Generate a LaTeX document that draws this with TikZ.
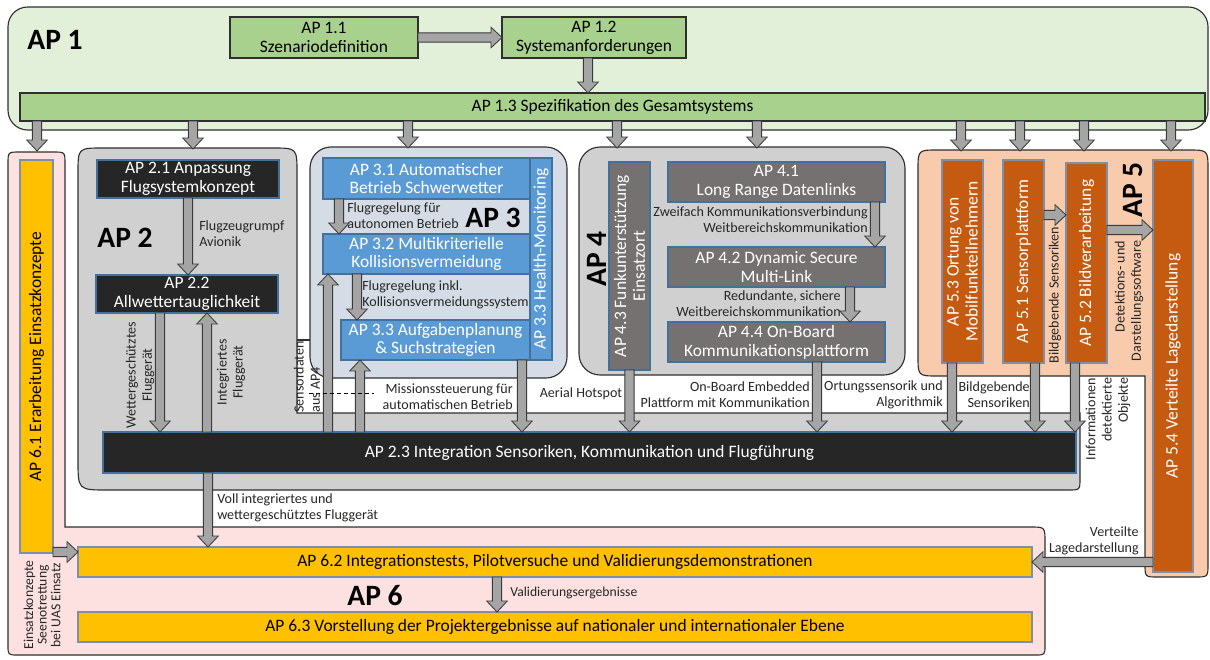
\documentclass[tikz,border=0pt]{standalone}
\usepackage{fontspec}
\setmainfont{Carlito}
\usetikzlibrary{calc}

\definecolor{apone}{HTML}{E2F0D9}
\definecolor{aponebox}{HTML}{A9D18E}
\definecolor{aptwo}{HTML}{D0D0D0}
\definecolor{darkbox}{HTML}{262626}
\definecolor{boxedge}{HTML}{41719C}
\definecolor{apthree}{HTML}{D6DCE5}
\definecolor{apthreebox}{HTML}{5B9BD5}
\definecolor{apfourbox}{HTML}{767171}
\definecolor{apfive}{HTML}{F8CBAD}
\definecolor{apfivebox}{HTML}{C55A11}
\definecolor{apsix}{HTML}{FDE1E1}
\definecolor{apsixbox}{HTML}{FFC000}
\definecolor{greyedge}{HTML}{7F8FA9}
\definecolor{arrfill}{HTML}{A5A5A5}
\definecolor{arrline}{HTML}{3A3A3A}
\definecolor{outline}{HTML}{2F2F2F}
\definecolor{lbltext}{HTML}{262626}

% one pixel of the drawing grid
\newcommand\pxu{0.025cm}
% block arrow: shaft half width, head half width, head length
\newcommand\aw{3.3pt}
\newcommand\aW{7.3pt}
\newcommand\ah{7.8pt}
\newcommand\blockarrow[2]{%
  \draw[fatarr] let \p1=(#1), \p2=(#2),
    \n1={veclen(\x2-\x1,\y2-\y1)}, \n2={(\x2-\x1)/\n1}, \n3={(\y2-\y1)/\n1} in
    ({\x1-\aw*\n3},{\y1+\aw*\n2})
    -- ({\x2-\ah*\n2-\aw*\n3},{\y2-\ah*\n3+\aw*\n2})
    -- ({\x2-\ah*\n2-\aW*\n3},{\y2-\ah*\n3+\aW*\n2})
    -- (\x2,\y2)
    -- ({\x2-\ah*\n2+\aW*\n3},{\y2-\ah*\n3-\aW*\n2})
    -- ({\x2-\ah*\n2+\aw*\n3},{\y2-\ah*\n3-\aw*\n2})
    -- ({\x1+\aw*\n3},{\y1-\aw*\n2}) -- cycle;}

\begin{document}
\begin{tikzpicture}[x=0.025cm, y=-0.025cm,
  outl/.style={draw=outline, line width=0.8pt},
  base/.style={inner sep=0pt, outer sep=0pt, align=center, line width=0.8pt,
    font=\fontsize{12.4}{13.4}\selectfont},
  sz/.style 2 args={minimum width=#1*\pxu, minimum height=#2*\pxu},
  gbox/.style={base, draw=outline, fill=aponebox},
  kbox/.style={base, draw=boxedge, fill=darkbox, text=white},
  bbox/.style={base, draw=boxedge, fill=apthreebox, text=white},
  hbox/.style={base, draw=boxedge, fill=apfourbox, text=white},
  obox/.style={base, draw=greyedge, fill=apfivebox, text=white},
  ybox/.style={base, draw=greyedge, fill=apsixbox, text=black},
  lbl/.style={inner sep=0pt, text=lbltext, font=\fontsize{10}{11.5}\selectfont},
  small/.style={inner sep=0pt, text=lbltext, font=\fontsize{9.7}{9.7}\selectfont},
  big/.style={inner sep=0pt, font=\fontsize{21}{21}\selectfont\bfseries},
  fatarr/.style={fill=arrfill, draw=arrline, line width=0.6pt, line join=miter},
]
\useasboundingbox (0,0) rectangle (1210,659);

% ---------- AP 1 frame ----------
\draw[outl, fill=apone, rounded corners=14pt] (8,7) rectangle (1208,130);
\node[big] (ap1) at (55,40) {AP 1};

% ---------- AP 6 frame (L-shaped) ----------
\draw[outl, fill=apsix]
  (65,527) -- (1030,527) .. controls (1045,527) .. (1045,542)
  -- (1045,645) .. controls (1045,655) .. (1035,655)
  -- (18,655) .. controls (8,655) .. (8,645)
  -- (8,164) .. controls (8,152) .. (20,152)
  -- (53,152) .. controls (65,152) .. (65,164) -- cycle;

% ---------- AP 5 frame (inverted L) ----------
\draw[outl, fill=apfive]
  (1145,376) -- (938,376) .. controls (918,376) .. (918,356)
  -- (918,170) .. controls (918,150) .. (938,150)
  -- (1188,150) .. controls (1208,150) .. (1208,170)
  -- (1208,564) .. controls (1208,577) .. (1195,577)
  -- (1158,577) .. controls (1145,577) .. (1145,564) -- cycle;

% ---------- AP 2 frame ----------
\draw[outl, fill=aptwo]
  (297,413) -- (297,173) .. controls (297,148) .. (272,148)
  -- (103,148) .. controls (78,148) .. (78,173)
  -- (78,460) .. controls (78,490) .. (108,490)
  -- (1068,490) .. controls (1080,490) .. (1080,478)
  -- (1080,413) -- cycle;
\draw[outl] (297,340) -- (312,340);

% ---------- AP 3 / AP 4 frames ----------
\draw[outl, fill=apthree, rounded corners=15pt] (310,147) rectangle (567,378);
\draw[outl, fill=aptwo, rounded corners=15pt] (579,147) rectangle (905,375);

% ---------- work package boxes ----------
\node[gbox, sz={188}{41}] (a11) at (324,37.5) {AP 1.1\\Szenariodefinition};
\node[gbox, sz={184}{41}] (a12) at (594,37.5) {AP 1.2\\Systemanforderungen};
\node[gbox, sz={1185}{28}] (a13) at (612.5,107) {AP 1.3 Spezifikation des Gesamtsystems};

\node[kbox, sz={182}{38}] (a21) at (188,179) {AP 2.1 Anpassung\\Flugsystemkonzept};
\node[kbox, sz={182}{38}] (a22) at (187,294) {AP 2.2\\Allwettertauglichkeit};
\node[kbox, sz={973}{41}] (a23) at (589.5,452.5) {AP 2.3 Integration Sensoriken, Kommunikation und Flugführung};

\node[bbox, sz={207}{41}] (a31) at (426.5,178.5) {AP 3.1 Automatischer\\Betrieb Schwerwetter};
\node[bbox, sz={207}{40}] (a32) at (426.5,254) {AP 3.2 Multikriterielle\\Kollisionsvermeidung};
\node[bbox, sz={189}{40}] (a33) at (435.5,340) {AP 3.3 Aufgabenplanung\\\& Suchstrategien};
\node[bbox, rotate=90, sz={202}{22}] (a34) at (541,259) {AP 3.3 Health-Monitoring};

\node[hbox, sz={217}{40}] (a41) at (776.5,182) {AP 4.1\\Long Range Datenlinks};
\node[hbox, sz={217}{40}] (a42) at (776.5,267) {AP 4.2 Dynamic Secure\\Multi-Link};
\node[hbox, rotate=90, sz={208}{41}] (a43) at (629.5,266) {AP 4.3 Funkunterstützung\\Einsatzort};
\node[hbox, sz={217}{40}] (a44) at (776.5,342) {AP 4.4 On-Board\\Kommunikationsplattform};

\node[obox, rotate=90, sz={203}{41}] (a53) at (962.5,261.5) {AP 5.3 Ortung von\\Mobilfunkteilnehmern};
\node[obox, rotate=90, sz={203}{41}] (a51) at (1023.5,261.5) {AP 5.1 Sensorplattform};
\node[obox, rotate=90, sz={200}{41}] (a52) at (1086.5,263) {AP 5.2 Bildverarbeitung};
\node[obox, rotate=90, sz={412}{40}] (a54) at (1173,366) {AP 5.4 Verteilte Lagedarstellung};

\node[ybox, rotate=90, sz={393}{33}] (a61) at (36.5,356.5) {AP 6.1 Erarbeitung Einsatzkonzepte};
\node[ybox, sz={954}{30}] (a62) at (555,562) {AP 6.2 Integrationstests, Pilotversuche und Validierungsdemonstrationen};
\node[ybox, sz={954}{30}] (a63) at (555,627) {AP 6.3 Vorstellung der Projektergebnisse auf nationaler und internationaler Ebene};

% ---------- headings ----------
\node[big] (ap2) at (125,238) {AP 2};
\node[big] (ap3) at (493,218) {AP 3};
\node[big, rotate=90] (ap4) at (597,259) {AP 4};
\node[big, rotate=90] (ap5) at (1133,190) {AP 5};
\node[big] (ap6) at (375,596) {AP 6};

% ---------- arrow columns and targets ----------
\coordinate (t61) at (37,151);
\coordinate (t2) at (193,149);
\coordinate (t3) at (408,148);
\coordinate (t43) at (617,148);
\coordinate (t4) at (757,148);
\coordinate (t53) at (961,151);
\coordinate (t51) at (1020,151);
\coordinate (t52) at (1084,151);
\coordinate (t54) at (1171,151);
\coordinate (c12) at (588,0);
\coordinate (cW) at (160,0);
\coordinate (cI) at (207,0);
\coordinate (cV) at (208,0);
\coordinate (cS) at (328,0);
\coordinate (cM) at (360,0);
\coordinate (c31) at (339,0);
\coordinate (c32) at (357,0);
\coordinate (c3out) at (522,0);
\coordinate (c41) at (875,0);
\coordinate (c42) at (850,0);
\coordinate (c44) at (817,0);
\coordinate (c53) at (952,0);
\coordinate (c51) at (1035,0);
\coordinate (c52) at (1075,0);
\coordinate (c62) at (497,0);
\coordinate (rE) at (0,552);
\coordinate (rS) at (0,215);
\coordinate (rD) at (0,230);

% ---------- connectors ----------
\blockarrow{a11.east}{a12.west}
\blockarrow{a12.south -| c12}{a13.north -| c12}
\foreach \t in {t61,t2,t3,t43,t4,t53,t51,t52,t54}{\blockarrow{a13.south -| \t}{\t}}

\blockarrow{a21.south}{a22.north -| a21.south}
\blockarrow{a22.south -| cW}{a23.north -| cW}
\blockarrow{a23.north -| cI}{a22.south -| cI}
\blockarrow{a23.south -| cV}{a62.north -| cV}

\blockarrow{a31.south -| c31}{a32.north -| c31}
\blockarrow{a32.south -| c32}{a33.north -| c32}
\blockarrow{a23.north -| cS}{a32.south -| cS}
\blockarrow{a23.north -| cM}{a33.south -| cM}
\blockarrow{a33.south -| c3out}{a23.north -| c3out}

\blockarrow{a41.south -| c41}{a42.north -| c41}
\blockarrow{a42.south -| c42}{a44.north -| c42}
\blockarrow{a43.west}{a23.north -| a43.west}
\blockarrow{a44.south -| c44}{a23.north -| c44}

\blockarrow{a51.south |- rS}{a52.north |- rS}
\blockarrow{a52.south |- rD}{a54.north |- rD}
\blockarrow{a53.west -| c53}{a23.north -| c53}
\blockarrow{a51.west -| c51}{a23.north -| c51}
\blockarrow{a52.west -| c52}{a23.north -| c52}
\blockarrow{a54.north |- a62.east}{a62.east}

\blockarrow{a61.south |- rE}{a62.west |- rE}
\blockarrow{a62.south -| c62}{a63.north -| c62}

\draw[line width=0.6pt, dash pattern=on 3pt off 2pt] (309,393) -- (374,393);

% ---------- connector labels ----------
\node[lbl, anchor=west, align=left] (l1) at (199,234) {Flugzeugrumpf\\Avionik};
\node[lbl, rotate=90, align=center] (l2) at (140,375) {Wettergeschütztes\\Fluggerät};
\node[lbl, rotate=90, align=center] (l3) at (231,372) {Integriertes\\Fluggerät};
\node[lbl, anchor=west, align=left] (l4) at (217,508) {Voll integriertes und\\wettergeschütztes Fluggerät};
\node[lbl, anchor=west, align=left] (l5) at (347,216) {Flugregelung für\\autonomen Betrieb};
\node[lbl, anchor=west, align=left] (l6) at (362,295) {Flugregelung inkl.\\Kollisionsvermeidungssystem};
\node[lbl, anchor=east, align=right] (l7) at (513,397) {Missionssteuerung für\\automatischen Betrieb};
\node[lbl, rotate=90, align=left] (l8) at (307,377) {Sensordaten\\aus AP4};
\node[lbl] (l9) at (581,394) {Aerial Hotspot};
\node[lbl, anchor=east, align=right] (l10) at (868,220) {Zweifach Kommunikationsverbindung\\Weitbereichskommunikation};
\node[lbl, anchor=east, align=right] (l11) at (841,304) {Redundante, sichere\\Weitbereichskommunikation};
\node[lbl, anchor=east, align=right] (l12) at (810,395) {On-Board Embedded\\Plattform mit Kommunikation};
\node[lbl, anchor=east, align=right] (l13) at (943,395) {Ortungssensorik und\\Algorithmik};
\node[lbl, anchor=east, align=right] (l14) at (1030,395) {Bildgebende\\Sensoriken};
\node[lbl, rotate=90] (l15) at (1055,295) {Bildgebende Sensoriken};
\node[lbl, rotate=90, align=right] (l16) at (1129,301) {Detektions- und\\Darstellungssoftware};
\node[lbl, rotate=90, align=right] (l17) at (1108,419) {Informationen\\detektierte\\Objekte};
\node[lbl, anchor=east, align=right] (l18) at (1139,541) {Verteilte\\Lagedarstellung};
\node[small, anchor=west] (l19) at (510,593) {Validierungsergebnisse};
\node[small, rotate=90, align=center] (l20) at (42,605) {Einsatzkonzepte\\Seenotrettung\\bei UAS Einsatz};
\end{tikzpicture}
\end{document}
